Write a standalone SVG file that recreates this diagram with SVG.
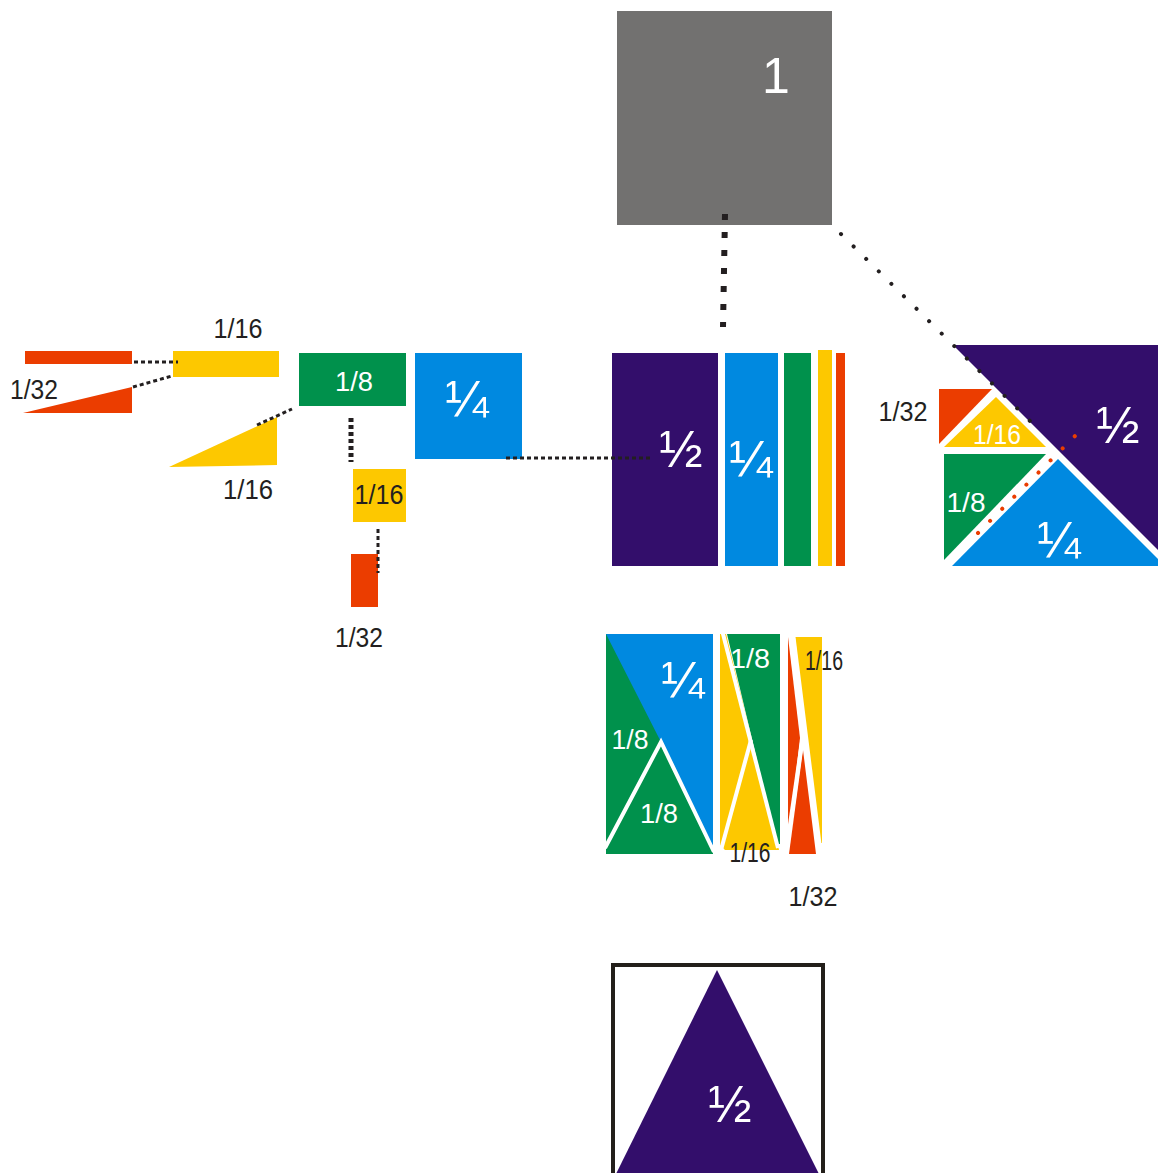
<svg xmlns="http://www.w3.org/2000/svg" width="1158" height="1173" viewBox="0 0 1158 1173">
<style>
.pu{fill:#330e6b}.bl{fill:#0089e0}.gr{fill:#00914c}.ye{fill:#fdc800}.rd{fill:#eb3d00}.gy{fill:#727170}
.t{font-family:"Liberation Sans",Arial,sans-serif;text-anchor:middle}
.w{fill:#fff}.k{fill:#231f20}
.lab{font-size:27px}
.frac{font-size:52px}
.dot{fill:none;stroke:#231f20;stroke-width:3;stroke-dasharray:4 3}
.gap{fill:none;stroke:#fff;stroke-width:4}
</style>
<g id="whole">
<rect class="gy" x="617" y="11" width="215" height="214"/>
<text class="t w" x="776" y="93" style="font-size:50px">1</text>
</g>
<g id="left-group">
<rect class="rd" x="25" y="351" width="107" height="13"/>
<polygon class="rd" points="23,413 132,387 132,413"/>
<text class="t k lab" x="34" y="399" textLength="48" lengthAdjust="spacingAndGlyphs">1/32</text>
<rect class="ye" x="173" y="351" width="106" height="26"/>
<text class="t k lab" x="238" y="338" textLength="49" lengthAdjust="spacingAndGlyphs">1/16</text>
<polygon class="ye" points="169,467 277,417 277,465"/>
<text class="t k lab" x="248" y="499" textLength="50" lengthAdjust="spacingAndGlyphs">1/16</text>
<rect class="gr" x="299" y="353" width="107" height="53"/>
<text class="t w lab" x="354" y="391" textLength="38" lengthAdjust="spacingAndGlyphs">1/8</text>
<rect class="bl" x="415" y="353" width="107" height="106"/>
<text class="t w frac" x="467" y="417">¼</text>
<rect class="ye" x="353" y="469" width="53" height="53"/>
<text class="t k lab" x="379" y="504" textLength="49" lengthAdjust="spacingAndGlyphs">1/16</text>
<rect class="rd" x="351" y="554" width="27" height="53"/>
<text class="t k lab" x="359" y="647" textLength="48" lengthAdjust="spacingAndGlyphs">1/32</text>
</g>
<g id="strips">
<rect class="pu" x="612" y="353" width="106" height="213"/>
<text class="t w frac" x="681" y="467">½</text>
<rect class="bl" x="725" y="353" width="53" height="213"/>
<text class="t w frac" x="751" y="477">¼</text>
<rect class="gr" x="784" y="353" width="27" height="213"/>
<rect class="ye" x="818" y="350" width="14" height="216"/>
<rect class="rd" x="836" y="353" width="9" height="213"/>
</g>
<g id="tangram-square">
<polygon class="pu" points="953,345 1158,345 1158,550"/>
<polygon class="bl" points="1058,459 1158,559 1158,566 952,566"/>
<polygon class="gr" points="944,454 1046,454 944,560"/>
<polygon class="ye" points="996,397 1046,447 944,447"/>
<polygon class="rd" points="939,389 992,389 939,444"/>
<text class="t k lab" x="903" y="421" textLength="49" lengthAdjust="spacingAndGlyphs">1/32</text>
<text class="t w lab" x="997" y="444" textLength="48" lengthAdjust="spacingAndGlyphs">1/16</text>
<text class="t w lab" x="966" y="512" textLength="39" lengthAdjust="spacingAndGlyphs">1/8</text>
<text class="t w frac" x="1059" y="558">¼</text>
<text class="t w frac" x="1118" y="443">½</text>
</g>
<g id="rect-tangram">
<rect class="gr" x="606" y="634" width="107" height="220"/>
<polygon class="bl" points="606,634 713,634 713,850 661,742"/>
<polyline class="gap" points="605,848 661,742 714,852"/>
<text class="t w frac" x="683" y="698">¼</text>
<text class="t w lab" x="630" y="749" textLength="37" lengthAdjust="spacingAndGlyphs">1/8</text>
<text class="t w lab" x="659" y="823" textLength="38" lengthAdjust="spacingAndGlyphs">1/8</text>
<polygon class="ye" points="720,634 726,634 779,850 725,850 720,845"/>
<polygon class="gr" points="727,634 780,634 780,844 777,844"/>
<line class="gap" x1="722" y1="630" x2="778" y2="848"/>
<line class="gap" x1="751" y1="740" x2="721" y2="850"/>
<text class="t w lab" x="750" y="668" textLength="40" lengthAdjust="spacingAndGlyphs">1/8</text>
<polygon class="ye" points="795,637 822,637 822,843 819,843"/>
<polygon class="rd" points="788,637 800,738 788,843"/>
<polygon class="rd" points="803,750 816,854 789,854"/>
<line class="gap" x1="793" y1="633" x2="820" y2="848"/>
<line class="gap" x1="802" y1="742" x2="786" y2="852"/>
<text class="t k lab" x="824" y="670" textLength="38" lengthAdjust="spacingAndGlyphs">1/16</text>
<text class="t k lab" x="750" y="862" textLength="41" lengthAdjust="spacingAndGlyphs">1/16</text>
<text class="t k lab" x="813" y="906" textLength="49" lengthAdjust="spacingAndGlyphs">1/32</text>
</g>
<g id="triangle-in-square">
<rect x="613" y="965" width="210" height="230" fill="none" stroke="#231f1a" stroke-width="4"/>
<polygon class="pu" points="717,970 613,1180 822,1180"/>
<text class="t w frac" x="730" y="1122">½</text>
</g>
<g id="connectors">
<line class="dot" x1="725" y1="214" x2="723" y2="327" style="stroke-width:6;stroke-dasharray:6 12"/>
<line class="dot" x1="841" y1="234" x2="1030" y2="421" style="stroke-width:4;stroke-linecap:round;stroke-dasharray:0.1 17.6"/>
<line x1="978" y1="533" x2="1078" y2="433" style="fill:none;stroke:#eb3d00;stroke-width:4;stroke-linecap:round;stroke-dasharray:0.1 17"/>
<line class="dot" x1="506" y1="458" x2="652" y2="458"/>
<line class="dot" x1="134" y1="362" x2="178" y2="362"/>
<line class="dot" x1="133" y1="387" x2="172" y2="376"/>
<line class="dot" x1="257" y1="425" x2="292" y2="409"/>
<line class="dot" x1="351" y1="418" x2="351" y2="462" style="stroke-width:5"/>
<line class="dot" x1="378" y1="529" x2="378" y2="573"/>
</g>
</svg>
